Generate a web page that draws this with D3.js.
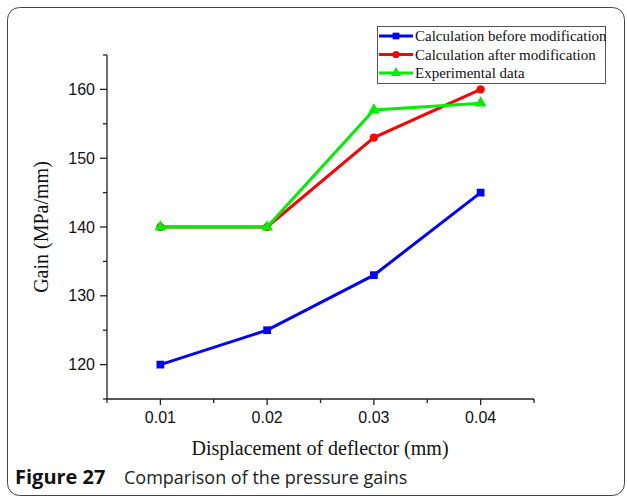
<!DOCTYPE html>
<html>
<head>
<meta charset="utf-8">
<script src="https://cdn.jsdelivr.net/npm/d3@7"></script>
<style>
  body { margin: 0; background: #fff; }
  svg { display: block; }
</style>
</head>
<body>
<svg id="chart" width="627" height="499"></svg>
<script>
// data
var displacement = [0.01, 0.02, 0.03, 0.04];
var beforeMod = [120, 125, 133, 145];
var afterMod = [140, 140, 153, 160];
var experimental = [140, 140, 157, 158];
var xTicks = [0.01, 0.02, 0.03, 0.04];
var yTicks = [120, 130, 140, 150, 160];

var series = [
  { name: 'Calculation before modification', values: beforeMod, color: '#0000ff', symbol: d3.symbolSquare, size: 60 },
  { name: 'Calculation after modification', values: afterMod, color: '#ff0000', symbol: d3.symbolCircle, size: 55 },
  { name: 'Experimental data', values: experimental, color: '#00ee00', symbol: d3.symbolTriangle, size: 60 }
];

var svg = d3.select('#chart');

// rounded frame of the figure
svg.append('rect')
  .attr('x', 7.5).attr('y', 7.5)
  .attr('width', 617).attr('height', 488)
  .attr('rx', 12).attr('ry', 12)
  .attr('fill', 'none')
  .attr('stroke', '#444')
  .attr('stroke-width', 1);

var x = d3.scaleLinear().domain([0.005, 0.045]).range([107, 534]);
var y = d3.scaleLinear().domain([115, 165]).range([399, 55]);

//************************ Axes *************************/
var axisColor = '#222';
var tickFont = '"Liberation Sans", Arial, sans-serif';

var yAxis = svg.append('g').attr('transform', 'translate(107,0)');
yAxis.append('line')
  .attr('x1', 0).attr('x2', 0).attr('y1', y(165)).attr('y2', y(115))
  .attr('stroke', axisColor).attr('stroke-width', 1.3);
yAxis.selectAll('.major').data(yTicks).enter().append('line')
  .attr('x1', -7).attr('x2', 0).attr('y1', d => y(d)).attr('y2', d => y(d))
  .attr('stroke', axisColor).attr('stroke-width', 1.3);
yAxis.selectAll('.minor').data(d3.range(115, 166, 10)).enter().append('line')
  .attr('x1', -4).attr('x2', 0).attr('y1', d => y(d)).attr('y2', d => y(d))
  .attr('stroke', axisColor).attr('stroke-width', 1.3);
yAxis.selectAll('text').data(yTicks).enter().append('text')
  .attr('x', -12).attr('y', d => y(d)).attr('dy', '0.35em')
  .attr('text-anchor', 'end')
  .attr('font-family', tickFont)
  .attr('font-size', 16).attr('fill', '#111')
  .text(d => d);

var xAxis = svg.append('g').attr('transform', 'translate(0,399)');
xAxis.append('line')
  .attr('x1', x(0.005)).attr('x2', x(0.045)).attr('y1', 0).attr('y2', 0)
  .attr('stroke', axisColor).attr('stroke-width', 1.3);
xAxis.selectAll('.major').data(xTicks).enter().append('line')
  .attr('x1', d => x(d)).attr('x2', d => x(d)).attr('y1', 0).attr('y2', 6)
  .attr('stroke', axisColor).attr('stroke-width', 1.3);
xAxis.selectAll('.minor').data([0.005, 0.015, 0.025, 0.035, 0.045]).enter().append('line')
  .attr('x1', d => x(d)).attr('x2', d => x(d)).attr('y1', 0).attr('y2', 4)
  .attr('stroke', axisColor).attr('stroke-width', 1.3);
xAxis.selectAll('text').data(xTicks).enter().append('text')
  .attr('x', d => x(d)).attr('y', 24)
  .attr('text-anchor', 'middle')
  .attr('font-family', tickFont)
  .attr('font-size', 16).attr('fill', '#111')
  .text(d => d.toFixed(2));

// axis titles
svg.append('text')
  .attr('x', 320).attr('y', 455)
  .attr('text-anchor', 'middle')
  .attr('font-family', '"Liberation Serif", "Times New Roman", serif')
  .attr('font-size', 20).attr('fill', '#111')
  .text('Displacement of deflector (mm)');

svg.append('text')
  .attr('transform', 'translate(48,227) rotate(-90)')
  .attr('text-anchor', 'middle')
  .attr('font-family', '"Liberation Serif", "Times New Roman", serif')
  .attr('font-size', 20).attr('fill', '#111')
  .text('Gain (MPa/mm)');

//************************ Lines and markers *************************/
var line = d3.line()
  .x((d, i) => x(displacement[i]))
  .y(d => y(d));

series.forEach(function(s) {
  var g = svg.append('g');
  g.append('path')
    .attr('d', line(s.values))
    .attr('fill', 'none')
    .attr('stroke', s.color)
    .attr('stroke-width', 3);
  g.selectAll('path.mark').data(s.values).enter().append('path')
    .attr('class', 'mark')
    .attr('d', d3.symbol().type(s.symbol).size(s.size))
    .attr('transform', (d, i) => 'translate(' + x(displacement[i]) + ',' + y(d) + ')')
    .attr('fill', s.color);
});

//************************ Legend *************************/
var legend = svg.append('g').attr('transform', 'translate(377,26)');
legend.append('rect')
  .attr('x', 0.5).attr('y', 0.5)
  .attr('width', 228).attr('height', 57)
  .attr('fill', '#fff')
  .attr('stroke', '#555').attr('stroke-width', 1);

var rows = legend.selectAll('g.row').data(series).enter().append('g')
  .attr('class', 'row')
  .attr('transform', (d, i) => 'translate(0,' + (10 + i * 18.5) + ')');
rows.append('line')
  .attr('x1', 2).attr('x2', 36).attr('y1', 0).attr('y2', 0)
  .attr('stroke', d => d.color).attr('stroke-width', 3);
rows.append('path')
  .attr('d', d => d3.symbol().type(d.symbol).size(d.size * 0.75)())
  .attr('transform', 'translate(19,0)')
  .attr('fill', d => d.color);
rows.append('text')
  .attr('x', 38).attr('y', 0).attr('dy', '0.35em')
  .attr('font-family', '"Liberation Serif", "Times New Roman", serif')
  .attr('font-size', 15).attr('fill', '#111')
  .text(d => d.name);

//************************ Caption *************************/
svg.append('text')
  .attr('x', 15).attr('y', 484)
  .attr('font-family', '"Open Sans", "Noto Sans", sans-serif')
  .attr('font-size', 20).attr('font-weight', 'bold').attr('fill', '#111')
  .text('Figure 27');
svg.append('text')
  .attr('x', 124).attr('y', 484)
  .attr('font-family', '"Open Sans", "Noto Sans", sans-serif')
  .attr('font-size', 18).attr('fill', '#222')
  .text('Comparison of the pressure gains');
</script>
</body>
</html>
